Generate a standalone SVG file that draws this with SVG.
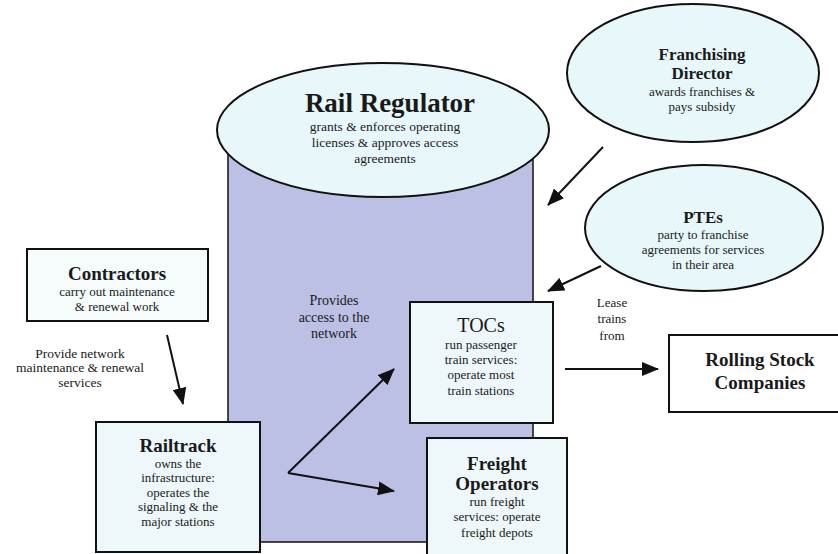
<svg xmlns="http://www.w3.org/2000/svg" width="838" height="554" viewBox="0 0 838 554">
<defs>
<marker id="arr" markerUnits="userSpaceOnUse" markerWidth="18" markerHeight="14" refX="16" refY="7" orient="auto">
<path d="M0,0 L17,7 L0,14 Z" fill="#111"/>
</marker>
<style>
text{font-family:"Liberation Serif","Times New Roman",serif;fill:#1a1a1a;text-anchor:middle}
.t{font-weight:bold;font-size:19px}
.s{font-size:13px}
.box{fill:#eef8fb;stroke:#111;stroke-width:2}
.ell{fill:#e8f7fa;stroke:#111;stroke-width:2}
.c{stroke:#111;stroke-width:2;fill:none;marker-end:url(#arr)}
</style>
</defs>
<rect width="838" height="554" fill="#fff"/>
<g id="rail-regulator">
<path d="M228,130 L228,542 L533,542 L533,130 Z" fill="#bcc0e4" stroke="#111" stroke-width="1.5"/>
<ellipse class="ell" cx="383" cy="130" rx="166" ry="67"/>
<text x="390" y="112" style="font-weight:bold;font-size:27px">Rail Regulator</text>
<text class="s" x="385" y="131" style="font-size:13.5px">grants &amp; enforces operating</text>
<text class="s" x="385" y="147" style="font-size:13.5px">licenses &amp; approves access</text>
<text class="s" x="385" y="163" style="font-size:13.5px">agreements</text>
<text x="334" y="305" style="font-size:14px">Provides</text>
<text x="334" y="322" style="font-size:14px">access to the</text>
<text x="334" y="338" style="font-size:14px">network</text>
</g>
<g id="franchising-director">
<ellipse class="ell" cx="693" cy="73" rx="126" ry="69"/>
<text x="702" y="60" style="font-weight:bold;font-size:17px">Franchising</text>
<text x="702" y="79" style="font-weight:bold;font-size:17px">Director</text>
<text class="s" x="702" y="96">awards franchises &amp;</text>
<text class="s" x="702" y="111">pays subsidy</text>
</g>
<g id="ptes">
<ellipse class="ell" cx="704" cy="228" rx="119" ry="63"/>
<text x="703" y="223" style="font-size:17px;font-weight:bold">PTEs</text>
<text class="s" x="703" y="239">party to franchise</text>
<text class="s" x="703" y="254">agreements for services</text>
<text class="s" x="703" y="269">in their area</text>
</g>
<g id="contractors">
<rect class="box" x="27" y="249" width="181" height="72" style="fill:#f6fbfc"/>
<text class="t" x="117" y="280">Contractors</text>
<text class="s" x="117" y="296">carry out maintenance</text>
<text class="s" x="117" y="311">&amp; renewal work</text>
</g>
<g id="railtrack">
<rect class="box" x="96" y="422" width="164" height="130"/>
<text class="t" x="178" y="452">Railtrack</text>
<text class="s" x="178" y="468">owns the</text>
<text class="s" x="178" y="482">infrastructure:</text>
<text class="s" x="178" y="497">operates the</text>
<text class="s" x="178" y="511">signaling &amp; the</text>
<text class="s" x="178" y="526">major stations</text>
</g>
<g id="tocs">
<rect class="box" x="410" y="302" width="143" height="121"/>
<text x="481" y="332" style="font-size:20px">TOCs</text>
<text class="s" x="481" y="349">run passenger</text>
<text class="s" x="481" y="364">train services:</text>
<text class="s" x="481" y="379">operate most</text>
<text class="s" x="481" y="395">train stations</text>
</g>
<g id="freight-operators">
<rect class="box" x="427" y="438" width="140" height="130"/>
<text class="t" x="497" y="470">Freight</text>
<text class="t" x="497" y="490">Operators</text>
<text class="s" x="497" y="506">run freight</text>
<text class="s" x="497" y="521">services: operate</text>
<text class="s" x="497" y="537">freight depots</text>
</g>
<g id="rolling-stock-companies">
<rect class="box" x="669" y="335" width="172" height="77" style="fill:#fff"/>
<text class="t" x="760" y="366">Rolling Stock</text>
<text class="t" x="760" y="389">Companies</text>
</g>
<g id="connectors">
<line class="c" x1="167" y1="335" x2="183" y2="404"/>
<text x="80" y="358" style="font-size:13.5px">Provide network</text>
<text x="80" y="372" style="font-size:13.5px">maintenance &amp; renewal</text>
<text x="80" y="387" style="font-size:13.5px">services</text>
<line class="c" x1="288" y1="473" x2="394" y2="369"/>
<line class="c" x1="288" y1="473" x2="394" y2="491"/>
<line class="c" x1="603" y1="147" x2="548" y2="205"/>
<line class="c" x1="601" y1="266" x2="548" y2="291"/>
<line class="c" x1="565" y1="369" x2="658" y2="369"/>
<text x="612" y="307" style="font-size:13px">Lease</text>
<text x="612" y="323" style="font-size:13px">trains</text>
<text x="612" y="340" style="font-size:13px">from</text>
</g>
</svg>
